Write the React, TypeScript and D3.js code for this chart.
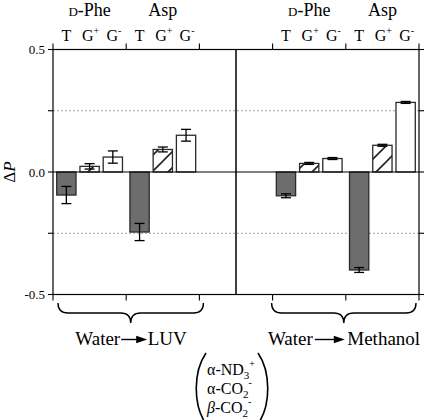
import React from "react";
import * as d3 from "d3";

// ---- data ----
const categories = ["T", "G+", "G-"];
const amino = ["D-Phe", "Asp"];
const panels = ["LUV", "Methanol"];
const slots = ["LUV|D-Phe", "LUV|Asp", "gap", "Methanol|D-Phe", "Methanol|Asp"];

const luvPhe = [-0.094, 0.023, 0.061];
const luvPheErr = [0.035, 0.011, 0.025];
const luvAsp = [-0.245, 0.092, 0.15];
const luvAspErr = [0.035, 0.01, 0.024];
const methPhe = [-0.097, 0.035, 0.055];
const methPheErr = [0.008, 0.004, 0.004];
const methAsp = [-0.4, 0.109, 0.284];
const methAspErr = [0.01, 0.004, 0.004];

const yTicks = [-0.5, -0.25, 0, 0.25, 0.5];
const yTickLabels = ["-0.5", "", "0.0", "", "0.5"];

const series = [
  { slot: "LUV|D-Phe", values: luvPhe, errs: luvPheErr },
  { slot: "LUV|Asp", values: luvAsp, errs: luvAspErr },
  { slot: "Methanol|D-Phe", values: methPhe, errs: methPheErr },
  { slot: "Methanol|Asp", values: methAsp, errs: methAspErr },
];

const W = 427;
const H = 420;
const left = 53;
const right = 419;
const top = 49.5;
const bottom = 294.5;
const FONT = "Liberation Serif, DejaVu Serif, Times New Roman, serif";

export default function App() {
  const x = d3.scaleBand<string>().domain(slots).range([left, right]).padding(0);
  const xi = d3
    .scaleBand<string>()
    .domain(categories)
    .range([0, x.bandwidth()])
    .paddingInner(0.17)
    .paddingOuter(0.16);
  const y = d3.scaleLinear().domain([-0.5, 0.5]).range([bottom, top]);

  const fills: Record<string, string> = { T: "#6d6d6d", "G+": "url(#hatch)", "G-": "#ffffff" };
  const boundaries = [
    x("LUV|D-Phe")!,
    x("LUV|Asp")!,
    x("LUV|Asp")! + x.bandwidth(),
    x("Methanol|D-Phe")!,
    x("Methanol|Asp")!,
    x("Methanol|Asp")! + x.bandwidth(),
  ];
  const divider = x("gap")! + x.bandwidth() / 2;

  const panelRange = (p: string) => [x(p + "|D-Phe")!, x(p + "|Asp")! + x.bandwidth()];

  const brace = (x1: number, x2: number) => {
    const t = 303, m = 313, tip = 323, r = 10;
    const xm = (x1 + x2) / 2;
    return `M${x1},${t} Q${x1},${m} ${x1 + r},${m} L${xm - r},${m} Q${xm},${m} ${xm},${tip} Q${xm},${m} ${xm + r},${m} L${x2 - r},${m} Q${x2},${m} ${x2},${t}`;
  };

  const arrow = (x1: number, x2: number, yy: number) => (
    <g>
      <line x1={x1} x2={x2 - 8} y1={yy} y2={yy} stroke="#000" strokeWidth={1.4} />
      <path d={`M${x2 - 11},${yy - 3.8} L${x2},${yy} L${x2 - 11},${yy + 3.8} Z`} fill="#000" />
    </g>
  );

  const catLabel = (c: string) => {
    if (c === "T") return "T";
    return (
      <>
        G
        <tspan fontSize={10} dy={-7}>
          {c === "G+" ? "+" : "-"}
        </tspan>
      </>
    );
  };

  const [lx1, lx2] = panelRange("LUV");
  const [rx1, rx2] = panelRange("Methanol");
  const lc = (lx1 + lx2) / 2;
  const rc = (rx1 + rx2) / 2;

  return (
    <svg
      width={W}
      height={H}
      style={{ position: "absolute", left: 0, top: 0, background: "#fff", fontFamily: FONT }}
    >
      <defs>
        <pattern id="hatch" patternUnits="userSpaceOnUse" width={16} height={16} x={4} y={0}>
          <rect width={16} height={16} fill="#fff" />
          <path d="M0,16 L16,0 M-4,4 L4,-4 M12,20 L20,12" stroke="#222" strokeWidth={1.6} />
        </pattern>
      </defs>
      <rect width={W} height={H} fill="#fff" />

      {/* reference dotted lines */}
      {[0.25, -0.25].map((v) => (
        <line
          key={v}
          x1={left}
          x2={right}
          y1={y(v)}
          y2={y(v)}
          stroke="#a0a0a0"
          strokeWidth={1}
          strokeDasharray="2,2"
        />
      ))}

      {/* bars */}
      {series.map((s) =>
        s.values.map((v, i) => {
          const c = categories[i];
          const bx = x(s.slot)! + xi(c)!;
          const y1 = y(Math.max(0, v));
          const y2 = y(Math.min(0, v));
          return (
            <rect
              key={s.slot + c}
              x={bx}
              y={y1}
              width={xi.bandwidth()}
              height={y2 - y1}
              fill={fills[c]}
              stroke="#2a2a2a"
              strokeWidth={1.3}
            />
          );
        })
      )}

      {/* error bars */}
      {series.map((s) =>
        s.values.map((v, i) => {
          const c = categories[i];
          const cx = x(s.slot)! + xi(c)! + xi.bandwidth() / 2;
          const e = s.errs[i];
          return (
            <g key={"e" + s.slot + c} stroke="#000" strokeWidth={1.3}>
              <line x1={cx} x2={cx} y1={y(v + e)} y2={y(v - e)} />
              <line x1={cx - 5} x2={cx + 5} y1={y(v + e)} y2={y(v + e)} />
              <line x1={cx - 5} x2={cx + 5} y1={y(v - e)} y2={y(v - e)} />
            </g>
          );
        })
      )}

      {/* zero line */}
      <line x1={left} x2={right} y1={y(0)} y2={y(0)} stroke="#000" strokeWidth={1.2} />

      {/* frame */}
      <rect x={left} y={top} width={right - left} height={bottom - top} fill="none" stroke="#000" strokeWidth={1.2} />
      <line x1={divider} x2={divider} y1={top} y2={bottom} stroke="#000" strokeWidth={1.5} />

      {/* y ticks left and right */}
      {yTicks.map((t, i) => (
        <g key={"yt" + t}>
          <line x1={left - 5} x2={left} y1={y(t)} y2={y(t)} stroke="#000" strokeWidth={1.1} />
          <line x1={right} x2={right + 5} y1={y(t)} y2={y(t)} stroke="#000" strokeWidth={1.1} />
          {yTickLabels[i] && (
            <text x={left - 8} y={y(t) + 4.5} textAnchor="end" fontSize={13}>
              {yTickLabels[i]}
            </text>
          )}
        </g>
      ))}

      {/* x ticks top and bottom */}
      {boundaries.map((b, i) => (
        <g key={"xt" + i}>
          <line x1={b} x2={b} y1={top - 6} y2={top} stroke="#000" strokeWidth={1.1} />
          <line x1={b} x2={b} y1={bottom} y2={bottom + 6} stroke="#000" strokeWidth={1.1} />
        </g>
      ))}

      {/* category and amino acid labels */}
      {panels.map((p) =>
        amino.map((a) => {
          const slot = p + "|" + a;
          const gx = x(slot)! + x.bandwidth() / 2;
          return (
            <g key={"lab" + slot}>
              <text x={gx} y={16} textAnchor="middle" fontSize={18}>
                {a === "D-Phe" ? (
                  <>
                    <tspan fontSize={13}>D</tspan>-Phe
                  </>
                ) : (
                  a
                )}
              </text>
              {categories.map((c) => (
                <text
                  key={c}
                  x={x(slot)! + xi(c)! + xi.bandwidth() / 2 + (c === "T" ? 0 : 1)}
                  y={41}
                  textAnchor="middle"
                  fontSize={16}
                >
                  {catLabel(c)}
                </text>
              ))}
            </g>
          );
        })
      )}

      {/* y axis title */}
      <text transform={`translate(15,172) rotate(-90)`} textAnchor="middle" fontSize={17}>
        Δ<tspan fontStyle="italic">P</tspan>
      </text>

      {/* braces */}
      <path d={brace(lx1 + 5, lx2 + 4)} fill="none" stroke="#000" strokeWidth={1.4} />
      <path d={brace(rx1 - 1, rx2 - 3)} fill="none" stroke="#000" strokeWidth={1.4} />

      {/* panel titles */}
      <text x={lc - 6} y={345} textAnchor="end" fontSize={19}>
        Water
      </text>
      {arrow(lc - 5, lc + 21, 339.5)}
      <text x={lc + 21.5} y={345} textAnchor="start" fontSize={19}>
        LUV
      </text>

      <text x={rc - 33} y={345} textAnchor="end" fontSize={19}>
        Water
      </text>
      {arrow(rc - 31, rc - 1, 339.5)}
      <text x={rc + 1.5} y={345} textAnchor="start" fontSize={19}>
        Methanol
      </text>

      {/* group parenthetical */}
      <path d="M206,353 C193,372 193,405 206,424" fill="none" stroke="#000" strokeWidth={1.6} />
      <path d="M258,353 C271,372 271,405 258,424" fill="none" stroke="#000" strokeWidth={1.6} />
      <text x={207} y={375} fontSize={16}>
        α-ND<tspan fontSize={11} dy={4}>3</tspan>
        <tspan fontSize={10} dy={-12}>+</tspan>
      </text>
      <text x={207} y={394} fontSize={16}>
        α-CO<tspan fontSize={11} dy={4}>2</tspan>
        <tspan fontSize={10} dy={-12}>-</tspan>
      </text>
      <text x={207} y={413} fontSize={16}>
        <tspan fontStyle="italic">β</tspan>-CO<tspan fontSize={11} dy={4}>2</tspan>
        <tspan fontSize={10} dy={-12}>-</tspan>
      </text>
    </svg>
  );
}
